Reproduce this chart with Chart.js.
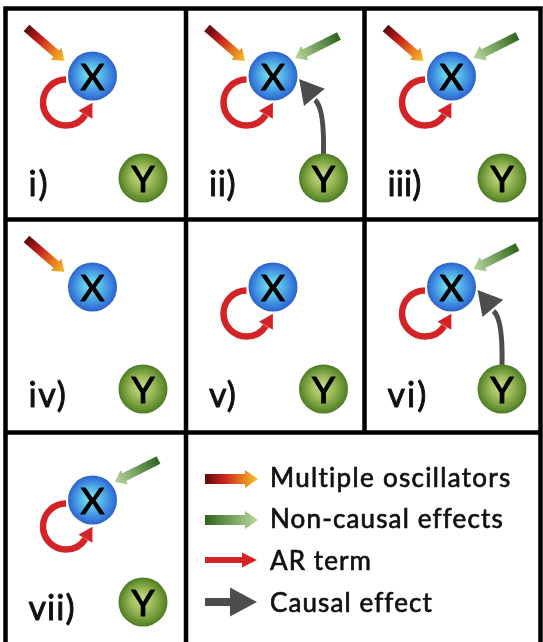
<!DOCTYPE html>
<html><head><meta charset="utf-8">
<script src="https://cdn.jsdelivr.net/npm/chart.js@4.4.0/dist/chart.umd.min.js"></script>
<style>html,body{margin:0;padding:0;background:#fff}#wrap{width:543px;height:642px;position:relative}</style>
</head><body><div id="wrap"><canvas id="c"></canvas></div>
<script>
// ---- content ----
const panelLabels = ['i)', 'ii)', 'iii)', 'iv)', 'v)', 'vi)', 'vii)'];
const panelCols = [0, 1, 2, 0, 1, 2, 0];
const panelRows = [0, 0, 0, 1, 1, 1, 2];
const oscillatorInput = [true, true, true, true, false, false, false];
const nonCausalInput = [false, true, true, false, false, true, true];
const arTerm = [true, true, true, false, true, true, true];
const causalEffect = [false, true, false, false, false, true, false];
const nodeNames = ['X', 'Y'];
const legendLabels = ['Multiple oscillators', 'Non-causal effects', 'AR term', 'Causal effect'];
const legendKinds = ['osc', 'noncausal', 'ar', 'causal'];

// ---- layout & style (value units == pixels of the scales) ----
const L = {
  W: 543, H: 642,
  colX: [5.5, 186, 364.5, 540.5],
  rowY: [8.5, 219.5, 432.5, 642],
  lineW: 4.5,
  nodeOff: { X: [87, 67.5], Y: [137.5, 169.5] },
  nodeR: 24.5,
  labelOff: [23, 187],
  labelW: { 'i)': 21, 'ii)': 27, 'iii)': 34, 'iv)': 39, 'v)': 28, 'vi)': 41, 'vii)': 47 },
  oscTail: [-66, -48], oscTip: [-28, -15],
  ncTail: [66, -40], ncTip: [22, -18],
  arC: [-26.5, 26.5], arR: 23,
  causalStart: [0, -24], causalCtrl: [1, -70], causalBase: [41, 21], causalTip: [26, 3],
  legendX0: 205, legendX1: 258, legendTextX: 270,
  legendY: [479, 520, 560, 602], legendBase: [487, 528, 570, 612],
  legendTextW: [242, 233, 102, 162]
};
const OSC_STOPS = [[0, '#5a0a0c'], [0.35, '#c81f1f'], [0.7, '#e77a1f'], [1, '#f3c52c']];
const NC_STOPS = [[0, '#2c661d'], [1, '#bcd89f']];
const RED = '#d42326', GREY = '#4d4d4d';

function blockArrow(ctx, x0, y0, x1, y1, sw, hw, hl, stops) {
  const dx = x1 - x0, dy = y1 - y0, len = Math.hypot(dx, dy);
  const ux = dx / len, uy = dy / len, nx = -uy, ny = ux;
  const bx = x1 - ux * hl, by = y1 - uy * hl;
  ctx.beginPath();
  ctx.moveTo(x0 + nx * sw / 2, y0 + ny * sw / 2);
  ctx.lineTo(bx + nx * sw / 2, by + ny * sw / 2);
  ctx.lineTo(bx + nx * hw / 2, by + ny * hw / 2);
  ctx.lineTo(x1, y1);
  ctx.lineTo(bx - nx * hw / 2, by - ny * hw / 2);
  ctx.lineTo(bx - nx * sw / 2, by - ny * sw / 2);
  ctx.lineTo(x0 - nx * sw / 2, y0 - ny * sw / 2);
  ctx.closePath();
  if (Array.isArray(stops)) {
    const g = ctx.createLinearGradient(x0, y0, x1, y1);
    stops.forEach(s => g.addColorStop(s[0], s[1]));
    ctx.fillStyle = g;
  } else ctx.fillStyle = stops;
  ctx.fill();
}
function tri(ctx, tx, ty, ux, uy, hw, hl, color) {
  const nx = -uy, ny = ux, bx = tx - ux * hl, by = ty - uy * hl;
  ctx.beginPath();
  ctx.moveTo(tx, ty);
  ctx.lineTo(bx + nx * hw / 2, by + ny * hw / 2);
  ctx.lineTo(bx - nx * hw / 2, by - ny * hw / 2);
  ctx.closePath();
  ctx.fillStyle = color; ctx.fill();
}
function boldText(ctx, text, x, y, sw) {
  ctx.fillText(text, x, y);
  ctx.lineWidth = sw; ctx.strokeStyle = ctx.fillStyle; ctx.lineJoin = 'round';
  ctx.strokeText(text, x, y);
}
function fitText(ctx, text, x, y, w, sw) {
  const m = ctx.measureText(text).width;
  if ('letterSpacing' in ctx && w) {
    ctx.letterSpacing = Math.max(0, (w - m) / text.length) + 'px';
    boldText(ctx, text, x, y, sw);
    ctx.letterSpacing = '0px';
  } else boldText(ctx, text, x, y, sw);
}

function nodePos(i, name) {
  return {
    x: L.colX[panelCols[i]] + L.nodeOff[name][0],
    y: L.rowY[panelRows[i]] + L.nodeOff[name][1]
  };
}
function nodeGradient(context, name) {
  const chart = context.chart;
  if (!chart.chartArea || !context.parsed) return name === 'X' ? '#4a9ee6' : '#86a94a';
  const cx = chart.scales.x.getPixelForValue(context.parsed.x);
  const cy = chart.scales.y.getPixelForValue(context.parsed.y);
  const r = L.nodeR;
  const g = chart.ctx.createRadialGradient(cx - 2, cy - 2, 1, cx, cy, r);
  if (name === 'X') {
    g.addColorStop(0, '#7de4ee'); g.addColorStop(0.45, '#52b2e6');
    g.addColorStop(0.85, '#3679dc'); g.addColorStop(1, '#2b63c4');
  } else {
    g.addColorStop(0, '#c6da8e'); g.addColorStop(0.45, '#9ab957');
    g.addColorStop(0.85, '#638f31'); g.addColorStop(1, '#4e7a24');
  }
  return g;
}

const diagramPlugin = {
  id: 'diagram',
  beforeDatasetsDraw(chart) {
    const ctx = chart.ctx, xs = chart.scales.x, ys = chart.scales.y;
    const px = v => xs.getPixelForValue(v), py = v => ys.getPixelForValue(v);
    ctx.save();
    ctx.strokeStyle = '#000'; ctx.lineWidth = L.lineW; ctx.lineCap = 'square';
    ctx.beginPath();
    for (let r = 0; r < 3; r++) {
      ctx.moveTo(px(L.colX[0]), py(L.rowY[r])); ctx.lineTo(px(L.colX[3]), py(L.rowY[r]));
    }
    [0, 1, 2, 3].forEach(c => { ctx.moveTo(px(L.colX[c]), py(L.rowY[0])); ctx.lineTo(px(L.colX[c]), py(L.rowY[2])); });
    [0, 1, 3].forEach(c => { ctx.moveTo(px(L.colX[c]), py(L.rowY[2])); ctx.lineTo(px(L.colX[c]), py(L.H + 5)); });
    ctx.stroke();

    panelLabels.forEach((lab, i) => {
      const X = nodePos(i, 'X'), Y = nodePos(i, 'Y');
      const xp = (o) => px(X.x + o[0]), yp = (o) => py(X.y + o[1]);
      if (oscillatorInput[i]) blockArrow(ctx, xp(L.oscTail), yp(L.oscTail), xp(L.oscTip), yp(L.oscTip), 8.5, 16, 11, OSC_STOPS);
      if (nonCausalInput[i]) blockArrow(ctx, xp(L.ncTail), yp(L.ncTail), xp(L.ncTip), yp(L.ncTip), 8.5, 16, 11, NC_STOPS);
      if (arTerm[i]) {
        const cx = xp(L.arC), cy = yp(L.arC), r = L.arR, th = Math.PI / 6;
        ctx.beginPath(); ctx.strokeStyle = RED; ctx.lineWidth = 6.5; ctx.lineCap = 'butt';
        ctx.arc(cx, cy, r, -Math.PI / 2, th + 0.05, true); ctx.stroke();
        const bx = cx + r * Math.cos(th), by = cy + r * Math.sin(th);
        const ux = Math.sin(th), uy = -Math.cos(th);
        tri(ctx, bx + ux * 13, by + uy * 13, ux, uy, 16, 14, RED);
      }
      if (causalEffect[i]) {
        const s = [px(Y.x + L.causalStart[0]), py(Y.y + L.causalStart[1])];
        const c = [px(Y.x + L.causalCtrl[0]), py(Y.y + L.causalCtrl[1])];
        const b = [xp(L.causalBase), yp(L.causalBase)];
        const t = [xp(L.causalTip), yp(L.causalTip)];
        ctx.beginPath(); ctx.strokeStyle = GREY; ctx.lineWidth = 5; ctx.lineCap = 'butt';
        ctx.moveTo(s[0], s[1]); ctx.quadraticCurveTo(c[0], c[1], b[0] + 1, b[1] + 3); ctx.stroke();
        const d = Math.hypot(t[0] - b[0], t[1] - b[1]);
        tri(ctx, t[0], t[1], (t[0] - b[0]) / d, (t[1] - b[1]) / d, 27, 24, GREY);
      }
      ctx.fillStyle = '#111'; ctx.font = '34px Lato'; ctx.textAlign = 'left'; ctx.textBaseline = 'alphabetic';
      fitText(ctx, lab, px(L.colX[panelCols[i]] + L.labelOff[0]), py(L.rowY[panelRows[i]] + L.labelOff[1]), L.labelW[lab], 0.9);
    });
    ctx.restore();
  },
  afterDatasetsDraw(chart) {
    const ctx = chart.ctx, xs = chart.scales.x, ys = chart.scales.y;
    const px = v => xs.getPixelForValue(v), py = v => ys.getPixelForValue(v);
    ctx.save();
    ctx.fillStyle = '#000'; ctx.font = '37px Lato'; ctx.textAlign = 'center'; ctx.textBaseline = 'alphabetic';
    nodeNames.forEach((n, di) => {
      chart.getDatasetMeta(di).data.forEach(el => boldText(ctx, n, el.x, el.y + 13.5, 1.1));
    });
    legendLabels.forEach((lab, k) => {
      const kind = legendKinds[k], y = py(L.legendY[k]);
      const x0 = px(L.legendX0), x1 = px(L.legendX1);
      if (kind === 'osc') blockArrow(ctx, x0, y, x1, y, 10, 18, 13, OSC_STOPS);
      else if (kind === 'noncausal') blockArrow(ctx, x0, y, x1, y, 10, 18, 13, NC_STOPS);
      else if (kind === 'ar') blockArrow(ctx, x0, y, x1 - 1, y, 6, 15, 15, RED);
      else blockArrow(ctx, x0, y, x1 - 1, y, 8, 29, 27, GREY);
      ctx.fillStyle = '#111'; ctx.font = '26px Lato'; ctx.textAlign = 'left';
      fitText(ctx, lab, px(L.legendTextX), py(L.legendBase[k]), L.legendTextW[k], 0.7);
    });
    ctx.restore();
  }
};

new Chart(document.getElementById('c'), {
  type: 'scatter',
  data: {
    datasets: nodeNames.map(n => ({
      label: n,
      data: panelLabels.map((_, i) => nodePos(i, n)),
      pointRadius: L.nodeR,
      pointBorderWidth: 0,
      backgroundColor: ctx => nodeGradient(ctx, n)
    }))
  },
  options: {
    responsive: true, maintainAspectRatio: false, animation: false, events: [],
    layout: { padding: 0, autoPadding: false },
    plugins: { legend: { display: false }, tooltip: { enabled: false } },
    scales: {
      x: { type: 'linear', min: 0, max: L.W, display: false },
      y: { type: 'linear', min: 0, max: L.H, reverse: true, display: false }
    }
  },
  plugins: [diagramPlugin]
});
</script></body></html>
